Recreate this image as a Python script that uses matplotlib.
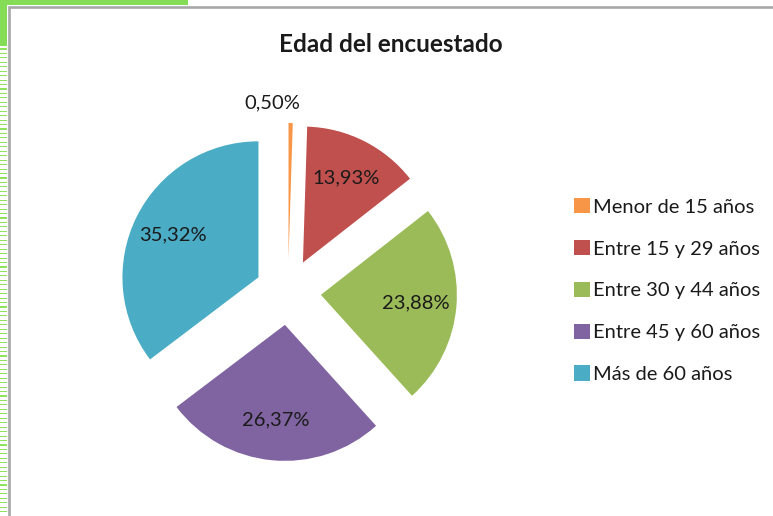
import numpy as np
import matplotlib
matplotlib.use("Agg")
import matplotlib.pyplot as plt
from matplotlib.patches import Rectangle

plt.rcParams['font.family'] = ['Lato', 'DejaVu Sans']

title = "Edad del encuestado"
categories = ["Menor de 15 años", "Entre 15 y 29 años", "Entre 30 y 44 años",
              "Entre 45 y 60 años", "Más de 60 años"]
percentages = [0.50, 13.93, 23.88, 26.37, 35.32]
colors = ["#F79646", "#C0504D", "#9BBB59", "#8064A2", "#4BACC6"]

W, H = 773, 516
fig = plt.figure(figsize=(W / 100, H / 100), dpi=100)
ax = fig.add_axes([0, 0, 1, 1])

# pixel-like coordinates, y up
cx, cy, r = 288, H - 292, 136

wedges, texts, autotexts = ax.pie(
    percentages, colors=colors, startangle=90, counterclock=False,
    center=(cx, cy), radius=r, explode=[33] * len(percentages),
    autopct=lambda p: f"{p:.2f}%".replace(".", ","), pctdistance=0.7,
    wedgeprops=dict(linewidth=0),
    textprops=dict(fontsize=14.5, color="#1a1a1a"))

# the tiny slice gets its label outside, above the wedge
wx, wy = wedges[0].center
autotexts[0].set_position((wx - 0.12 * r, wy + 1.15 * r))

ax.set_xlim(0, W)
ax.set_ylim(0, H)
ax.set_aspect("equal")
ax.axis("off")

ax.text(391, H - 44, title, ha="center", va="center", fontsize=17.5,
        fontweight="bold", color="#1a1a1a")

leg = ax.legend(wedges, categories, loc="upper left",
                bbox_to_anchor=(574, H - 198), bbox_transform=ax.transData,
                frameon=False, fontsize=14.5, borderpad=0, borderaxespad=0,
                handlelength=0.8, handleheight=0.8, handletextpad=0.12,
                labelspacing=1.2)
for t in leg.get_texts():
    t.set_color("#1a1a1a")

# window decoration: green bar / stripes and grey chart border
ax.add_patch(Rectangle((0, H - 4.5), 188, 4.5, color="#84dc57", lw=0, zorder=5))
ax.add_patch(Rectangle((0, H - 46), 6.5, 46, color="#84dc57", lw=0, zorder=5))
for y in np.arange(H - 48.5, 0, -4.45):
    ax.add_patch(Rectangle((0, y - 1), 6.5, 1.1, color="#8ee45e", lw=0, zorder=5))
ax.add_patch(Rectangle((8.5, -10), W, H - 6.5 + 10, fill=False,
                       edgecolor="#a8a8a8", lw=1.9, zorder=5))

fig.savefig("out.png", dpi=100)
